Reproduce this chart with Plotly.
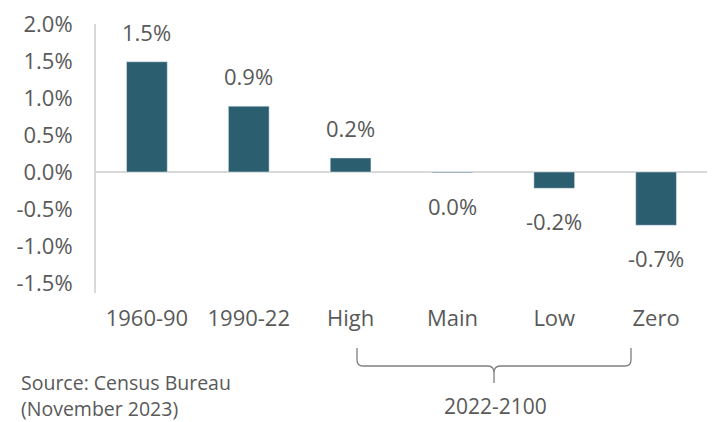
import plotly.graph_objects as go

categories = ["1960-90", "1990-22", "High", "Main", "Low", "Zero"]
values = [1.49, 0.89, 0.19, -0.01, -0.22, -0.72]
labels = ["1.5%", "0.9%", "0.2%", "0.0%", "-0.2%", "-0.7%"]
tick_vals = [-1.5, -1.0, -0.5, 0.0, 0.5, 1.0, 1.5, 2.0]
tick_text = ["-1.5%", "-1.0%", "-0.5%", "0.0%", "0.5%", "1.0%", "1.5%", "2.0%"]
bracket_label = "2022-2100"
source_lines = ["Source: Census Bureau", "(November 2023)"]

W, H = 714, 422
L, R, T, B = 96, 7, 24, 129
FONT = "Open Sans, sans-serif"
TXT = "#595959"
BAR = "#2B5F6F"
GRID = "#D9D9D9"

fig = go.Figure()
fig.add_trace(go.Bar(x=categories, y=values, marker=dict(color=BAR), width=0.4,
                     hoverinfo="skip"))

# data labels
for c, v, t in zip(categories, values, labels):
    fig.add_annotation(x=c, y=v, text=t, showarrow=False, xref="x", yref="y",
                       yshift=30 if v >= 0 else -33,
                       font=dict(family=FONT, size=22, color=TXT))

pw = W - L - R
ph = H - T - B
def xp(px):
    return (px - L) / pw
def yp(py):
    return (H - B - py) / ph

# bracket
path = (
    f"M {xp(357)} {yp(348)} L {xp(357)} {yp(360)} "
    f"Q {xp(357)} {yp(366)} {xp(363)} {yp(366)} "
    f"L {xp(488)} {yp(366)} Q {xp(494)} {yp(366)} {xp(494)} {yp(373)} "
    f"L {xp(494)} {yp(383)} M {xp(494)} {yp(373)} "
    f"Q {xp(494)} {yp(366)} {xp(500)} {yp(366)} "
    f"L {xp(625)} {yp(366)} Q {xp(631)} {yp(366)} {xp(631)} {yp(360)} "
    f"L {xp(631)} {yp(348)}"
)
fig.add_shape(type="path", path=path, xref="paper", yref="paper",
              line=dict(color="#7F7F7F", width=1.3))

fig.add_annotation(x=xp(495), y=yp(406), xref="paper", yref="paper",
                   text=bracket_label, showarrow=False,
                   xanchor="center", yanchor="middle",
                   font=dict(family=FONT, size=21, color=TXT))

for i, s in enumerate(source_lines):
    fig.add_annotation(x=xp(19), y=yp(382 + 26 * i), xref="paper", yref="paper",
                       text=s, showarrow=False, xanchor="left", yanchor="middle",
                       font=dict(family=FONT, size=19.5, color=TXT))

fig.update_layout(
    width=W, height=H,
    margin=dict(l=L, r=R, t=T, b=B),
    paper_bgcolor="white", plot_bgcolor="white",
    showlegend=False,
    font=dict(family=FONT, color=TXT),
    xaxis=dict(showgrid=False, zeroline=False, showline=False,
               ticks="outside", ticklen=6, tickcolor="rgba(0,0,0,0)",
               tickfont=dict(family=FONT, size=22, color=TXT)),
    yaxis=dict(range=[-1.635, 2.0], tickvals=tick_vals, ticktext=tick_text,
               showgrid=False, zeroline=True, zerolinecolor=GRID, zerolinewidth=2,
               showline=True, linecolor=GRID, linewidth=2,
               ticks="outside", ticklen=17, tickcolor="rgba(0,0,0,0)",
               tickfont=dict(family=FONT, size=22, color=TXT)),
)

fig.write_html("out.html", config={"displayModeBar": False},
               post_script="document.body.style.margin='0px';document.body.style.overflow='hidden';")
